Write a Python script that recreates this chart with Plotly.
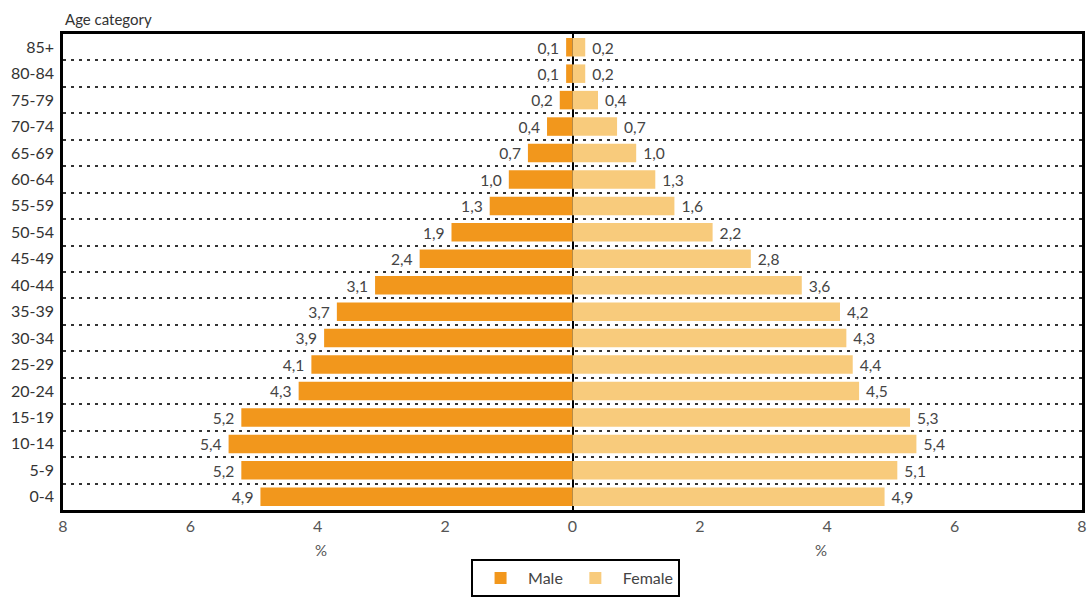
import plotly.graph_objects as go

# Population share by age group (%)
age_groups = ["0-4", "5-9", "10-14", "15-19", "20-24", "25-29", "30-34", "35-39",
              "40-44", "45-49", "50-54", "55-59", "60-64", "65-69", "70-74",
              "75-79", "80-84", "85+"]
male = [4.9, 5.2, 5.4, 5.2, 4.3, 4.1, 3.9, 3.7, 3.1, 2.4, 1.9, 1.3, 1.0, 0.7,
        0.4, 0.2, 0.1, 0.1]
female = [4.9, 5.1, 5.4, 5.3, 4.5, 4.4, 4.3, 4.2, 3.6, 2.8, 2.2, 1.6, 1.3, 1.0,
          0.7, 0.4, 0.2, 0.2]
x_ticks = [-8, -6, -4, -2, 0, 2, 4, 6, 8]

MALE_COLOR = "#F2971C"
FEMALE_COLOR = "#F8CB7C"
FONT = "Lato, 'DejaVu Sans', sans-serif"


def fmt(v):
    return f"{v:.1f}".replace(".", ",")


fig = go.Figure()
fig.add_trace(go.Bar(
    y=age_groups, x=[-v for v in male], orientation="h", name="Male",
    marker=dict(color=MALE_COLOR, line=dict(width=0)),
    text=[fmt(v) + " " for v in male], textposition="outside", cliponaxis=False,
    textfont=dict(size=16, color="#444444", family=FONT),
    hovertemplate="%{y}: %{text}%<extra>Male</extra>",
))
fig.add_trace(go.Bar(
    y=age_groups, x=female, orientation="h", name="Female",
    marker=dict(color=FEMALE_COLOR, line=dict(width=0)),
    text=[" " + fmt(v) for v in female], textposition="outside", cliponaxis=False,
    textfont=dict(size=16, color="#444444", family=FONT),
    hovertemplate="%{y}: %{text}%<extra>Female</extra>",
))

# Dotted separators between age groups, on an overlaid numeric axis
n = len(age_groups)
fig.add_trace(go.Scatter(x=[None], y=[None], yaxis="y2", showlegend=False,
                         hoverinfo="skip"))

fig.update_layout(
    width=1091, height=601,
    margin=dict(l=63, r=9, t=34, b=91, autoexpand=False),
    paper_bgcolor="white", plot_bgcolor="white",
    barmode="relative", bargap=0.3,
    font=dict(family=FONT, color="#444444", size=16),
    xaxis=dict(
        range=[-8, 8], tickvals=x_ticks, ticktext=[str(abs(t)) for t in x_ticks],
        showgrid=False, zeroline=True, zerolinecolor="black", zerolinewidth=2,
        showline=True, linecolor="black", linewidth=2.5, mirror=True,
        ticks="", tickfont=dict(size=16, color="#555555"), layer="above traces",
        automargin=False,
    ),
    yaxis=dict(
        type="category", categoryorder="array", categoryarray=age_groups,
        range=[-0.5, n - 0.5], showgrid=False, zeroline=False,
        showline=True, linecolor="black", linewidth=2.5, mirror=True,
        ticks="", ticklabelstandoff=3, tickfont=dict(size=16, color="#333333"),
        automargin=False,
    ),
    yaxis2=dict(
        overlaying="y", range=[-0.5, n - 0.5],
        tickvals=[i + 0.5 for i in range(n - 1)], showticklabels=False,
        showgrid=True, gridcolor="#333333", gridwidth=1.5, griddash="3px,5px",
        zeroline=False, showline=False, ticks="", automargin=False,
    ),
    legend=dict(
        orientation="h", x=0.503, xanchor="center", y=-0.183, yanchor="bottom",
        bordercolor="black", borderwidth=2, bgcolor="white",
        font=dict(size=16, color="#444444"), itemwidth=45,
    ),
    annotations=[
        dict(text="Age category", x=0, xref="paper", xanchor="left",
             y=1.008, yref="paper", yanchor="bottom", showarrow=False,
             font=dict(size=15, color="#333333")),
        dict(text="%", x=-3.95, xref="x", y=-0.085, yref="paper", yanchor="middle",
             showarrow=False, font=dict(size=15, color="#555555")),
        dict(text="%", x=3.9, xref="x", y=-0.085, yref="paper", yanchor="middle",
             showarrow=False, font=dict(size=15, color="#555555")),
    ],
)

fig.write_html("out.html")
